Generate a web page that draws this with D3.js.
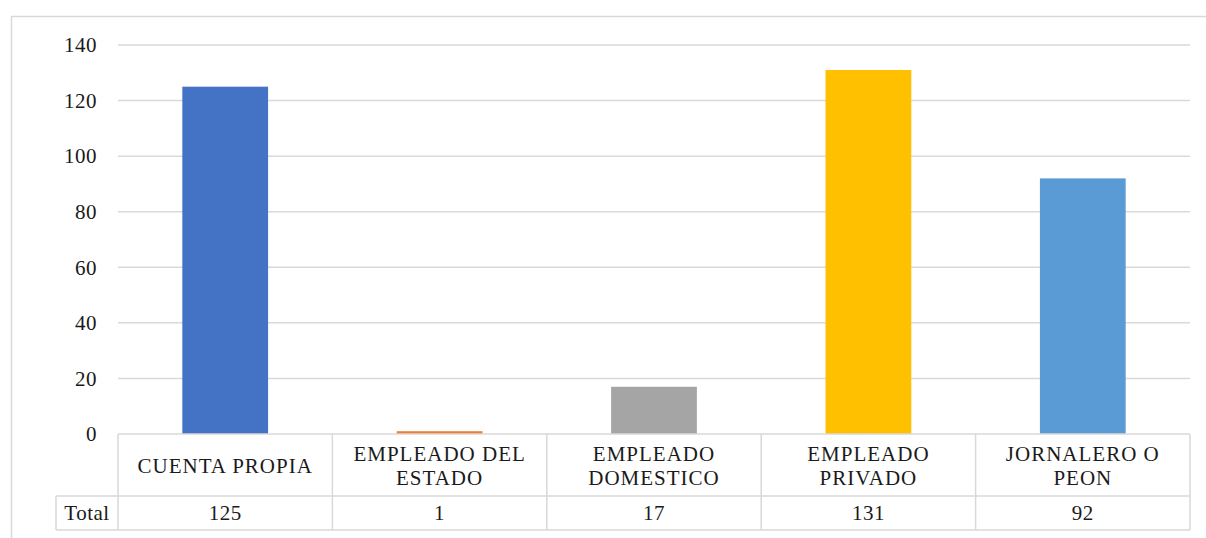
<!DOCTYPE html>
<html>
<head>
<meta charset="utf-8">
<script src="https://cdn.jsdelivr.net/npm/d3@7"></script>
<style>
  body { margin: 0; background: #fff; }
  text { font-family: "Liberation Serif", "Times New Roman", serif; fill: #1a1a1a; }
</style>
</head>
<body>
<script>
var categories = ["CUENTA PROPIA", "EMPLEADO DEL ESTADO", "EMPLEADO DOMESTICO", "EMPLEADO PRIVADO", "JORNALERO O PEON"];
var labelLines = [["CUENTA PROPIA"], ["EMPLEADO DEL", "ESTADO"], ["EMPLEADO", "DOMESTICO"], ["EMPLEADO", "PRIVADO"], ["JORNALERO O", "PEON"]];
var totals = [125, 1, 17, 131, 92];
var colors = ["#4472C4", "#ED7D31", "#A5A5A5", "#FFC000", "#5B9BD5"];
var yTicks = [0, 20, 40, 60, 80, 100, 120, 140];
var rowLabel = "Total";

var W = 1206, H = 538;
var plotLeft = 118, plotRight = 1190, plotTop = 45, base = 434;
var headerBottom = 496, tableBottom = 530, totalLeft = 56;
var grid = "#d9d9d9";
var fs = 21;

var svg = d3.select("body").append("svg")
  .attr("width", W)
  .attr("height", H);

// chart border
svg.append("rect")
  .attr("x", 11.5).attr("y", 16.5)
  .attr("width", 1200).attr("height", 540)
  .attr("fill", "none").attr("stroke", grid).attr("stroke-width", 1.5);

var x = d3.scaleBand().domain(categories).range([plotLeft, plotRight]).paddingInner(0.6).paddingOuter(0.3);
var xCell = d3.scaleBand().domain(categories).range([plotLeft, plotRight]);
var y = d3.scaleLinear().domain([0, 140]).range([base, plotTop]);

// gridlines
svg.selectAll("line.grid")
  .data(yTicks.filter(function(d) { return d > 0; }))
  .enter().append("line")
  .attr("x1", plotLeft).attr("x2", plotRight)
  .attr("y1", function(d) { return y(d); })
  .attr("y2", function(d) { return y(d); })
  .attr("stroke", grid).attr("stroke-width", 1.5);

// y labels
svg.selectAll("text.ytick")
  .data(yTicks)
  .enter().append("text")
  .attr("x", 97)
  .attr("y", function(d) { return y(d); })
  .attr("dy", "0.35em")
  .attr("text-anchor", "end")
  .attr("font-size", fs)
  .attr("letter-spacing", 0.5)
  .text(function(d) { return d; });

// bars
svg.selectAll("rect.bar")
  .data(totals)
  .enter().append("rect")
  .attr("x", function(d, i) { return x(categories[i]); })
  .attr("width", x.bandwidth())
  .attr("y", function(d) { return y(d); })
  .attr("height", function(d) { return base - y(d); })
  .attr("fill", function(d, i) { return colors[i]; });

// data table
var tbl = svg.append("g").attr("stroke", grid).attr("stroke-width", 1.5).attr("fill", "none");
tbl.append("line").attr("x1", plotLeft).attr("x2", plotRight).attr("y1", base).attr("y2", base);
tbl.append("line").attr("x1", totalLeft).attr("x2", plotRight).attr("y1", headerBottom).attr("y2", headerBottom);
tbl.append("line").attr("x1", totalLeft).attr("x2", plotRight).attr("y1", tableBottom).attr("y2", tableBottom);
tbl.append("line").attr("x1", totalLeft).attr("x2", totalLeft).attr("y1", headerBottom).attr("y2", tableBottom);
tbl.selectAll("line.v")
  .data(categories.concat(["end"]))
  .enter().append("line")
  .attr("x1", function(d) { return d === "end" ? plotRight : xCell(d); })
  .attr("x2", function(d) { return d === "end" ? plotRight : xCell(d); })
  .attr("y1", base).attr("y2", tableBottom);

// header labels
var hdr = svg.selectAll("text.hdr")
  .data(labelLines)
  .enter().append("text")
  .attr("text-anchor", "middle")
  .attr("font-size", fs)
  .attr("letter-spacing", 1);
hdr.each(function(lines, i) {
  var cx = xCell(categories[i]) + xCell.bandwidth() / 2;
  var mid = (base + headerBottom) / 2 + 1;
  var start = mid - (lines.length - 1) * 12;
  d3.select(this).selectAll("tspan")
    .data(lines)
    .enter().append("tspan")
    .attr("x", cx)
    .attr("y", function(d, j) { return start + j * 24; })
    .attr("dy", "0.35em")
    .text(function(d) { return d; });
});

// value row
svg.append("text")
  .attr("x", (totalLeft + plotLeft) / 2)
  .attr("y", (headerBottom + tableBottom) / 2)
  .attr("dy", "0.35em")
  .attr("text-anchor", "middle")
  .attr("font-size", fs)
  .attr("letter-spacing", 0.5)
  .text(rowLabel);
svg.selectAll("text.val")
  .data(totals)
  .enter().append("text")
  .attr("x", function(d, i) { return xCell(categories[i]) + xCell.bandwidth() / 2; })
  .attr("y", (headerBottom + tableBottom) / 2)
  .attr("dy", "0.35em")
  .attr("text-anchor", "middle")
  .attr("font-size", fs)
  .attr("letter-spacing", 0.5)
  .text(function(d) { return d; });
</script>
</body>
</html>
